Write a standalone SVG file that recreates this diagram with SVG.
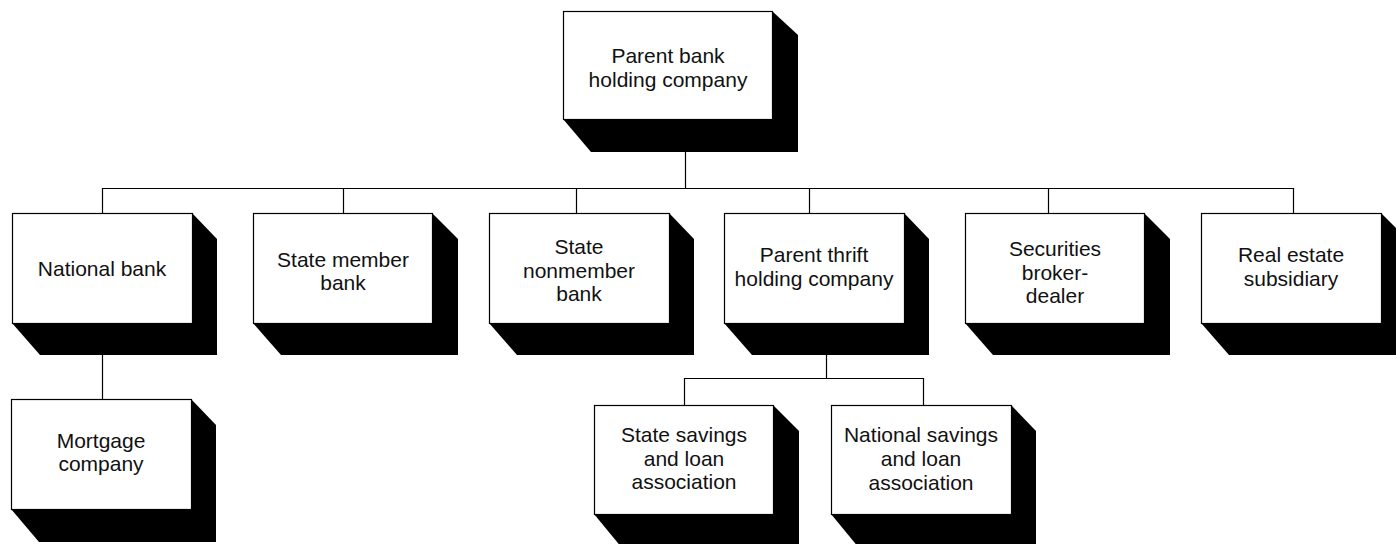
<svg xmlns="http://www.w3.org/2000/svg" width="1396" height="544" viewBox="0 0 1396 544">
<style>
.box{fill:#fff;stroke:#000;stroke-width:1.2}
.sh{fill:#000}
.conn line{stroke:#000;stroke-width:1.2}
text{font-family:"Liberation Sans",Arial,sans-serif;font-size:21px;fill:#111;text-anchor:middle}
</style>
<rect width="1396" height="544" fill="#fff"/>
<g class="conn">
<line x1="685.5" y1="152" x2="685.5" y2="188.5"/>
<line x1="102" y1="188.5" x2="1293" y2="188.5"/>
<line x1="102.5" y1="188" x2="102.5" y2="213"/>
<line x1="343.5" y1="188" x2="343.5" y2="213"/>
<line x1="576.5" y1="188" x2="576.5" y2="213"/>
<line x1="809.5" y1="188" x2="809.5" y2="213"/>
<line x1="1048.5" y1="188" x2="1048.5" y2="213"/>
<line x1="1293.5" y1="188" x2="1293.5" y2="213"/>
<line x1="102.5" y1="355" x2="102.5" y2="399"/>
<line x1="826.5" y1="355" x2="826.5" y2="378.5"/>
<line x1="684" y1="378.5" x2="924" y2="378.5"/>
<line x1="684.5" y1="378" x2="684.5" y2="405"/>
<line x1="923.5" y1="378" x2="923.5" y2="405"/>
</g>
<g id="parent-bank">
<polygon class="sh" points="772,11 798,35 798,152 591,152 563,119"/>
<rect class="box" x="563.5" y="11.5" width="209" height="108"/>
<text x="668" y="63">Parent bank</text>
<text x="668" y="87">holding company</text>
</g>
<g id="national-bank">
<polygon class="sh" points="192,213 217,239 217,355 40,355 12,323"/>
<rect class="box" x="12.5" y="213.5" width="180" height="110"/>
<text x="102" y="276">National bank</text>
</g>
<g id="state-member">
<polygon class="sh" points="432,213 458,239 458,355 281,355 253,323"/>
<rect class="box" x="253.5" y="213.5" width="179" height="110"/>
<text x="343" y="266.5">State member</text>
<text x="343" y="289.5">bank</text>
</g>
<g id="state-nonmember">
<polygon class="sh" points="669,213 694,239 694,355 517,355 489,323"/>
<rect class="box" x="489.5" y="213.5" width="180" height="110"/>
<text x="579" y="254">State</text>
<text x="579" y="277.5">nonmember</text>
<text x="579" y="301">bank</text>
</g>
<g id="parent-thrift">
<polygon class="sh" points="904,213 929,239 929,355 752,355 724,323"/>
<rect class="box" x="724.5" y="213.5" width="180" height="110"/>
<text x="814" y="262">Parent thrift</text>
<text x="814" y="286">holding company</text>
</g>
<g id="securities">
<polygon class="sh" points="1144,213 1170,239 1170,355 993,355 965,323"/>
<rect class="box" x="965.5" y="213.5" width="179" height="110"/>
<text x="1055" y="256">Securities</text>
<text x="1055" y="279.5">broker-</text>
<text x="1055" y="303">dealer</text>
</g>
<g id="real-estate">
<polygon class="sh" points="1381,213 1396,228 1396,355 1229,355 1201,323"/>
<rect class="box" x="1201.5" y="213.5" width="180" height="110"/>
<text x="1291" y="262">Real estate</text>
<text x="1291" y="286">subsidiary</text>
</g>
<g id="mortgage">
<polygon class="sh" points="191,399 216,425 216,542 39,542 11,509"/>
<rect class="box" x="11.5" y="399.5" width="180" height="110"/>
<text x="101" y="448">Mortgage</text>
<text x="101" y="471">company</text>
</g>
<g id="state-savings">
<polygon class="sh" points="773,405 799,431 799,548 622,548 594,514"/>
<rect class="box" x="594.5" y="405.5" width="179" height="109"/>
<text x="684" y="442">State savings</text>
<text x="684" y="465.5">and loan</text>
<text x="684" y="489">association</text>
</g>
<g id="national-savings">
<polygon class="sh" points="1011,405 1036,431 1036,548 859,548 831,514"/>
<rect class="box" x="831.5" y="405.5" width="180" height="109"/>
<text x="921" y="442">National savings</text>
<text x="921" y="466">and loan</text>
<text x="921" y="490">association</text>
</g>
</svg>
